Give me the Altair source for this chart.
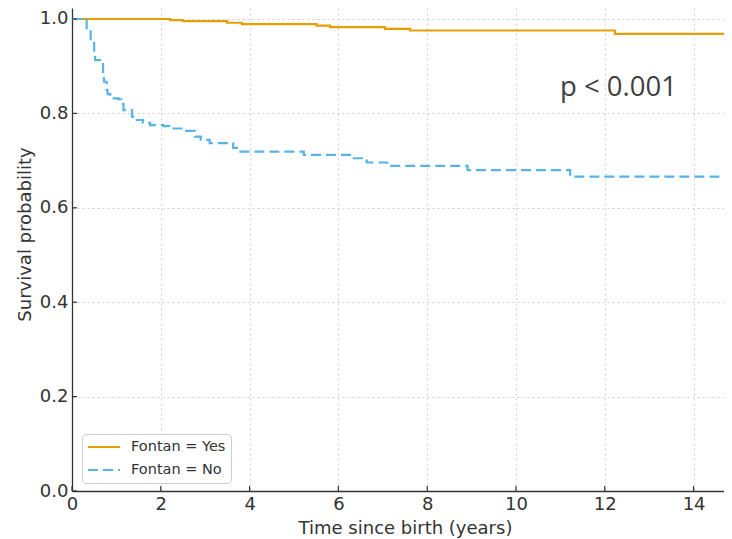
import altair as alt
import pandas as pd

# Kaplan-Meier step curves
yes_t = [0.0, 2.21, 2.50, 3.49, 3.83, 5.51, 5.81, 7.05, 7.61, 12.23, 15.0]
yes_s = [1.0, 0.9975, 0.9953, 0.992, 0.989, 0.986, 0.9826, 0.979, 0.9756, 0.9686, 0.9686]

no_t = [0.0, 0.29, 0.33, 0.42, 0.50, 0.52, 0.63, 0.70, 0.72, 0.78, 0.80, 0.86, 1.05,
        1.12, 1.16, 1.35, 1.46, 1.60, 1.76, 2.06, 2.20, 2.53, 2.77, 2.90, 3.10, 3.63,
        3.76, 5.22, 6.30, 6.53, 6.64, 7.10, 8.91, 11.22, 15.0]
no_s = [1.0, 0.998, 0.977, 0.949, 0.930, 0.913, 0.907, 0.881, 0.867, 0.850, 0.841, 0.832, 0.830,
        0.820, 0.807, 0.793, 0.786, 0.780, 0.775, 0.773, 0.768, 0.763, 0.751, 0.744, 0.737, 0.727,
        0.719, 0.712, 0.705, 0.700, 0.696, 0.689, 0.680, 0.666, 0.666]

groups = ["Fontan = Yes", "Fontan = No"]
colors = ["#E69F00", "#56B4E9"]
dashes = [[1, 0], [10, 5]]

x_ticks = [0, 2, 4, 6, 8, 10, 12, 14]
y_ticks = [0.0, 0.2, 0.4, 0.6, 0.8, 1.0]

p_text = ["p < 0.001"]
p_x = [10.99]
p_y = [0.8375]

W, H = 652, 483
X_MAX = 14.685
Y_MAX = 1.0233

curves = pd.concat([
    pd.DataFrame({"t": yes_t, "s": yes_s, "group": groups[0]}),
    pd.DataFrame({"t": no_t, "s": no_s, "group": groups[1]}),
])

xs = alt.Scale(domain=[0, X_MAX], nice=False, zero=True)
ys = alt.Scale(domain=[0, Y_MAX], nice=False)

FONT = "DejaVu Sans"
INK = "#333333"

x_axis = alt.Axis(values=x_ticks, format="d", grid=True, gridDash=[2, 3], gridColor="#cfcfcf",
                  gridWidth=1, domainColor=INK, domainWidth=1.3, ticks=False, labelFlush=False,
                  labelFont=FONT, labelFontSize=18, labelColor=INK, labelPadding=4,
                  title="Time since birth (years)", titleFont=FONT, titleFontSize=18,
                  titleFontWeight="normal", titleColor=INK,
                  titleX=333, titleY=37, titleBaseline="middle")
y_axis = alt.Axis(values=y_ticks, format=".1f", grid=True, gridDash=[2, 3], gridColor="#cfcfcf",
                  gridWidth=1, domainColor=INK, domainWidth=1.3, ticks=False,
                  labelFont=FONT, labelFontSize=18, labelColor=INK, labelPadding=4,
                  title="Survival probability", titleFont=FONT, titleFontSize=18,
                  titleFontWeight="normal", titleColor=INK,
                  titleX=-47, titleY=226, titleBaseline="middle", titleAngle=-90)

lines = alt.Chart(curves).mark_line(interpolate="step-after", strokeWidth=2.2, clip=True).encode(
    x=alt.X("t:Q", scale=xs, axis=x_axis),
    y=alt.Y("s:Q", scale=ys, axis=y_axis),
    color=alt.Color("group:N", scale=alt.Scale(domain=groups, range=colors),
                    legend=alt.Legend(title=None, orient="none", legendX=10, legendY=426,
                                      symbolType="stroke", symbolSize=1024, symbolStrokeWidth=2,
                                      clipHeight=16, rowPadding=7, padding=5,
                                      labelFont=FONT, labelFontSize=14.5, labelColor=INK,
                                      labelOffset=10,
                                      fillColor="white", strokeColor="#cccccc", cornerRadius=4)),
    strokeDash=alt.StrokeDash("group:N", scale=alt.Scale(domain=groups, range=dashes), legend=None),
    order=alt.Order("t:Q"),
)

ytick_df = pd.DataFrame({"v": y_ticks})
xtick_df = pd.DataFrame({"v": x_ticks})

ytick_marks = alt.Chart(ytick_df).mark_rule(color=INK, strokeWidth=1.2).encode(
    y=alt.Y("v:Q", scale=ys), x=alt.value(0), x2=alt.value(5))
xtick_marks = alt.Chart(xtick_df).mark_rule(color=INK, strokeWidth=1.2).encode(
    x=alt.X("v:Q", scale=xs), y=alt.value(H), y2=alt.value(H - 5))

ptext = alt.Chart(pd.DataFrame({"label": p_text, "x": p_x, "y": p_y})).mark_text(
    font="Open Sans", fontSize=27.5, color="#404040", align="left", baseline="alphabetic"
).encode(x=alt.X("x:Q", scale=xs), y=alt.Y("y:Q", scale=ys), text="label:N")

chart = alt.layer(lines, ytick_marks, xtick_marks, ptext).properties(
    width=W, height=H,
    autosize=alt.AutoSizeParams(type="none"),
    padding={"left": 64, "top": 0, "right": 0, "bottom": 48},
    background="white",
).configure_view(strokeWidth=0)

chart.save("out.html", embed_options={"renderer": "svg", "actions": False})
